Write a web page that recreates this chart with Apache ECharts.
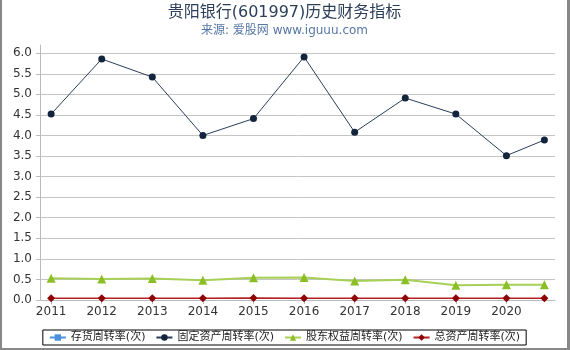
<!DOCTYPE html>
<html><head><meta charset="utf-8">
<script src="https://cdn.jsdelivr.net/npm/echarts@6/dist/echarts.min.js"></script>
<style>html,body{margin:0;padding:0;background:#fff}#c{width:570px;height:350px;box-sizing:border-box;border-left:2px solid #888;border-right:3px solid #888;border-bottom:2px solid #888}</style>
</head><body><div id="c"></div>
<script>
const years = [2011, 2012, 2013, 2014, 2015, 2016, 2017, 2018, 2019, 2020, 2020.75];
const tickYears = [2011, 2012, 2013, 2014, 2015, 2016, 2017, 2018, 2019, 2020];
const inventoryTurnover = [];
const fixedAssetTurnover = [4.52, 5.86, 5.42, 4.00, 4.41, 5.91, 4.08, 4.91, 4.52, 3.51, 3.89];
const equityTurnover = [0.53, 0.51, 0.52, 0.48, 0.54, 0.55, 0.46, 0.49, 0.36, 0.37, 0.37];
const totalAssetTurnover = [0.04, 0.04, 0.04, 0.04, 0.05, 0.04, 0.04, 0.04, 0.04, 0.04, 0.04];
const yTicks = [0, 0.5, 1, 1.5, 2, 2.5, 3, 3.5, 4, 4.5, 5, 5.5, 6];

const pair = arr => arr.map((v, i) => [years[i], v]);
const chart = echarts.init(document.getElementById('c'));
const font = '"DejaVu Sans", "Noto Sans CJK SC", sans-serif';
chart.setOption({
  animation: false,
  textStyle: {fontFamily: font},
  title: {
    text: '贵阳银行(601997)历史财务指标',
    subtext: '来源: 爱股网 www.iguuu.com',
    left: 'center', top: 0, itemGap: 4,
    textStyle: {fontSize: 16, fontWeight: 'normal', color: '#2b3e5a', fontFamily: font},
    subtextStyle: {fontSize: 12, color: '#5677a4', fontFamily: font}
  },
  legend: {
    bottom: 3, left: 'center',
    borderColor: '#000', borderWidth: 1, padding: [2, 6], itemGap: 10,
    itemWidth: 16, itemHeight: 8,
    textStyle: {fontSize: 11, color: '#222', fontFamily: font},
    data: ['存货周转率(次)', '固定资产周转率(次)', '股东权益周转率(次)', '总资产周转率(次)']
  },
  grid: {left: 38, right: 12, top: 45, bottom: 48, containLabel: false},
  xAxis: {
    type: 'value', min: 2010.78, max: 2020.96,
    splitLine: {show: false},
    axisLine: {lineStyle: {color: '#bbb'}},
    axisTick: {show: true, customValues: tickYears, length: 4, lineStyle: {color: '#bbb'}},
    axisLabel: {customValues: tickYears, formatter: v => String(Math.round(v)), fontSize: 12, color: '#333', margin: 6}
  },
  yAxis: {
    type: 'value', min: 0, max: 6.2,
    axisLine: {show: true, lineStyle: {color: '#bbb'}},
    axisTick: {show: true, customValues: yTicks, length: 4, lineStyle: {color: '#bbb'}},
    axisLabel: {customValues: yTicks, formatter: v => v.toFixed(1), fontSize: 12, color: '#333', margin: 8},
    splitLine: {show: true, lineStyle: {color: '#c4c4c4'}}
  },
  series: [
    {name: '存货周转率(次)', type: 'line', data: pair(inventoryTurnover), symbol: 'rect', symbolSize: 7,
      itemStyle: {color: '#4a8fdc'}, lineStyle: {color: '#4a8fdc', width: 1}},
    {name: '固定资产周转率(次)', type: 'line', data: pair(fixedAssetTurnover), symbol: 'circle', symbolSize: 7,
      itemStyle: {color: '#13243d'}, lineStyle: {color: '#2a3d5a', width: 1}},
    {name: '股东权益周转率(次)', type: 'line', data: pair(equityTurnover), symbol: 'triangle', symbolSize: 9,
      itemStyle: {color: '#8cbf26'}, lineStyle: {color: '#a6d057', width: 2}},
    {name: '总资产周转率(次)', type: 'line', data: pair(totalAssetTurnover), symbol: 'diamond', symbolSize: 8,
      itemStyle: {color: '#8e0000'}, lineStyle: {color: '#b22222', width: 1.5}}
  ]
});
</script></body></html>
